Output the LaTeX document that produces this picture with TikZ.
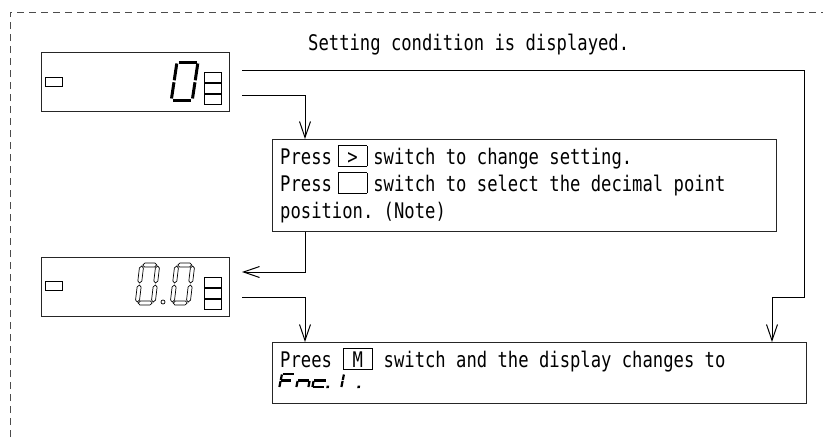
\documentclass[tikz,border=0pt]{standalone}
\usepackage{fontspec}
\setmonofont[FakeStretch=0.80]{DejaVu Sans Mono}
\usetikzlibrary{arrows.meta}
\newlength\chw
\setlength\chw{10.35pt}
\newcommand\kbox[2]{\makebox[#2\chw]{\setlength{\fboxsep}{0pt}\setlength{\fboxrule}{0.7pt}\fbox{\makebox[28pt]{\rule[-2pt]{0pt}{20pt}#1}}}}
\newcommand\hsegA[3]{\draw[hollowseg] (#1,#3) -- (#1+2,#3-2) -- (#2-2,#3-2) -- (#2,#3) -- (#2-2,#3+2) -- (#1+2,#3+2) -- cycle;}
\newcommand\vsegA[3]{\draw[hollowseg] (#1,#2) -- (#1+2,#2+2) -- (#1+2,#3-2) -- (#1,#3) -- (#1-2,#3-2) -- (#1-2,#2+2) -- cycle;}
\newcommand\hollowzero{%
  \hsegA{3}{17}{2}\hsegA{3}{17}{40}%
  \vsegA{2}{3}{20}\vsegA{2}{22}{39}\vsegA{18}{3}{20}\vsegA{18}{22}{39}}
\begin{document}
\begin{tikzpicture}[x=1pt,y=-1pt,
  frame/.style={draw=black!85,line width=0.9pt},
  dispbox/.style={frame,anchor=north west,inner sep=0pt,minimum width=188pt,minimum height=59pt},
  textbox/.style={frame,anchor=north west,inner sep=0pt},
  conn/.style={draw=black,line width=1pt},
  arr/.style={conn,-{Straight Barb[length=16pt,width=11pt]}},
  txt/.style={font=\ttfamily\fontsize{21.5}{27}\selectfont,anchor=base west,inner sep=0pt},
  dashframe/.style={draw=black!70,line width=0.7pt,dash pattern=on 7pt off 5pt},
  solidseg/.style={draw=black,line width=3pt},
  hollowseg/.style={draw=black,line width=0.7pt},
  lcdseg/.style={draw=black,line width=2.2pt},
  smallbox/.style={draw=black,line width=0.9pt}]
\useasboundingbox (0,0) rectangle (823,437);
% dashed frame
\draw[dashframe] (10,437) -- (10,12) -- (823,12);
% display 1
\node[dispbox] (d1) at (41,52) {};
\draw[smallbox] (45,77) rectangle (62,86);
\draw[smallbox] (204,72) rectangle (221,82.4);
\draw[smallbox] (204,83.2) rectangle (221,93.6);
\draw[smallbox] (204,94.4) rectangle (221,104.8);
\begin{scope}[shift={(177,62)},xslant=0.15]
  \draw[solidseg] (1.5,0) -- (19.5,0);
  \draw[solidseg] (21,1.5) -- (21,18.3);
  \draw[solidseg] (21,20.3) -- (21,36.5);
  \draw[solidseg] (1.5,38) -- (19.5,38);
  \draw[solidseg] (0,20.3) -- (0,36.5);
  \draw[solidseg] (0,1.5) -- (0,18.3);
\end{scope}
% display 2
\node[dispbox] (d2) at (41,257) {};
\draw[smallbox] (45,281) rectangle (62,290);
\draw[smallbox] (204,277) rectangle (221,287.4);
\draw[smallbox] (204,288.2) rectangle (221,298.6);
\draw[smallbox] (204,299.4) rectangle (221,309.8);
\begin{scope}[shift={(140,263)},xslant=0.12]
  \hollowzero
\end{scope}
\draw[hollowseg] (163,302) circle[radius=2pt];
\begin{scope}[shift={(175,263)},xslant=0.12]
  \hollowzero
\end{scope}
% caption
\node[txt] (t0) at (308,50) {Setting condition is displayed.};
% box 1
\node[textbox,minimum width=504pt,minimum height=92pt] (b1) at (272,139) {};
\node[txt] (t1a) at (280,164) {Press\kbox{>}{4}switch to change setting.};
\node[txt] (t1b) at (280,191) {Press\kbox{}{4}switch to select the decimal point};
\node[txt] (t1c) at (280,218) {position. (Note)};
% box 2
\node[textbox,minimum width=534pt,minimum height=61pt] (b2) at (272,342) {};
\node[txt] (t2a) at (280,367) {Prees\kbox{M}{5}switch and the display changes to};
\begin{scope}[shift={(282,374)},xslant=0.2]
  % F
  \draw[lcdseg] (0.5,0) -- (12,0);
  \draw[lcdseg] (0,0.5) -- (0,6);
  \draw[lcdseg] (0,7) -- (0,13);
  \draw[lcdseg] (0.5,6.5) -- (10,6.5);
  % n
  \draw[lcdseg] (17,7) -- (17,13);
  \draw[lcdseg] (17.5,6.5) -- (28.5,6.5);
  \draw[lcdseg] (29,7) -- (29,13);
  % c
  \draw[lcdseg] (33.5,6.5) -- (45,6.5);
  \draw[lcdseg] (33,7) -- (33,13);
  \draw[lcdseg] (33.5,13) -- (45,13);
  % .
  \fill (47,11.5) rectangle (49.5,14);
  % 1
  \draw[lcdseg] (62,0.5) -- (62,6);
  \draw[lcdseg] (62,7) -- (62,13);
  % .
  \fill (78,11.5) rectangle (80.5,14);
\end{scope}
% connectors
\coordinate (c1s) at (242,70);
\coordinate (c1a) at (804,70);
\coordinate (c1b) at (804,297);
\coordinate (c1c) at (772,297);
\draw[arr] (c1s) -- (c1a) -- (c1b) -- (c1c) -- (c1c |- b2.north);
\coordinate (c2s) at (242,95);
\coordinate (c2b) at (305,95);
\draw[arr] (c2s) -- (c2b) -- (c2b |- b1.north);
\coordinate (c3a) at (305,272);
\coordinate (c3e) at (242,272);
\draw[arr] (c3a |- b1.south) -- (c3a) -- (c3e);
\coordinate (c4s) at (242,297);
\coordinate (c4b) at (305,297);
\draw[arr] (c4s) -- (c4b) -- (c4b |- b2.north);
\end{tikzpicture}
\end{document}
